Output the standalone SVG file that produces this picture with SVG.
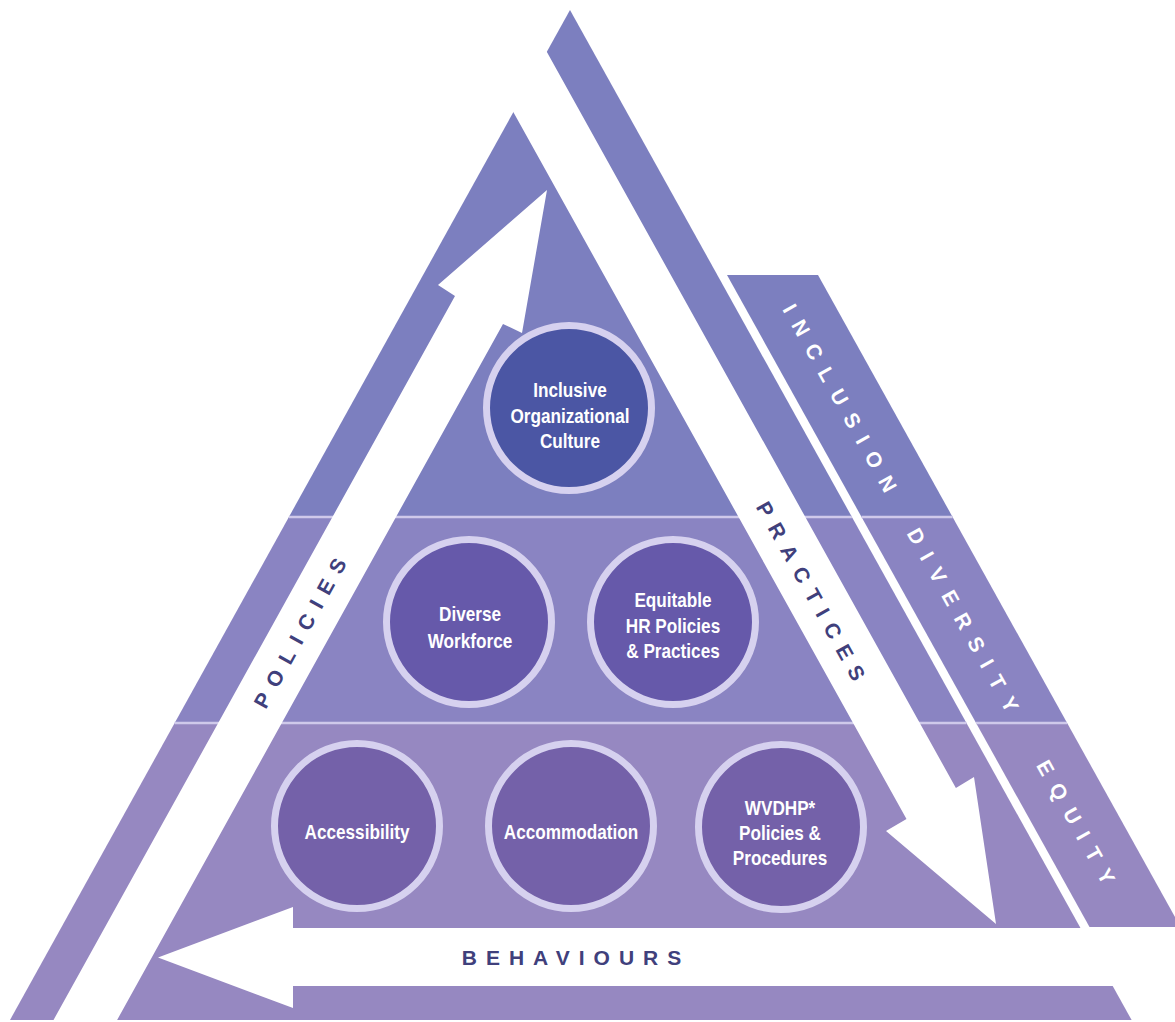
<svg xmlns="http://www.w3.org/2000/svg" width="1175" height="1022" viewBox="0 0 1175 1022">
<defs>
<linearGradient id="bands" gradientUnits="userSpaceOnUse" x1="0" y1="0" x2="0" y2="1022">
<stop offset="0" stop-color="#7c7fbf"/>
<stop offset="0.5059" stop-color="#7c7fbf"/>
<stop offset="0.5059" stop-color="#8a84c2"/>
<stop offset="0.7074" stop-color="#8a84c2"/>
<stop offset="0.7074" stop-color="#9688c1"/>
<stop offset="1" stop-color="#9688c1"/>
</linearGradient>
<style>
.band{fill:url(#bands)}
.sep{stroke:#cfc9ea;stroke-width:2.5}
.arrow{fill:#ffffff}
.ring{stroke:#d6d1ef;stroke-width:7}
.c1{fill:#4b56a4}
.c2{fill:#6659aa}
.c3{fill:#7461a9}
.ct{font-family:"Liberation Sans",Arial,sans-serif;font-weight:bold;font-size:19.5px;fill:#ffffff;text-anchor:middle}
.lab{font-family:"Liberation Sans",Arial,sans-serif;font-weight:bold;font-size:21px;text-anchor:middle}
.dark{fill:#40407c;letter-spacing:10px}
.light{fill:#ffffff;letter-spacing:12px}
</style>
</defs>
<rect width="1175" height="1022" fill="#ffffff"/>
<g id="pyramid">
<polygon class="band" points="570,10 1131.6,1020 10,1020"/>
<polygon class="band" points="727,275 818,275 1175,917 1175,927 1089.5,927"/>
<line class="sep" x1="288.9" y1="517" x2="851.9" y2="517"/>
<line class="sep" x1="861.6" y1="517" x2="952.6" y2="517"/>
<line class="sep" x1="174.6" y1="723" x2="966.4" y2="723"/>
<line class="sep" x1="976" y1="723" x2="1067" y2="723"/>
</g>
<g id="connectors">
<polygon id="arrow-practices" class="arrow" points="451,0 518,0 955.9,788 974,777 996,924 886,831 906.5,819"/>
<polygon id="arrow-policies" class="arrow" points="52.4,1022 455,296 438,285 547,190 522,333 503,324 116,1022"/>
<polygon id="arrow-behaviours" class="arrow" points="1175,928 293,928 293,907 158,957.5 293,1008 293,986 1175,986"/>
</g>
<g id="node-inclusive">
<circle class="ring c1" cx="569" cy="408" r="82.5"/>
<g transform="translate(570,0) scale(0.88,1)">
<text class="ct" x="0" y="397">Inclusive</text>
<text class="ct" x="0" y="423">Organizational</text>
<text class="ct" x="0" y="448">Culture</text>
</g>
</g>
<g id="node-diverse">
<circle class="ring c2" cx="469" cy="622" r="82.5"/>
<g transform="translate(470,0) scale(0.88,1)">
<text class="ct" x="0" y="621">Diverse</text>
<text class="ct" x="0" y="648">Workforce</text>
</g>
</g>
<g id="node-equitable">
<circle class="ring c2" cx="673" cy="622" r="82.5"/>
<g transform="translate(673,0) scale(0.88,1)">
<text class="ct" x="0" y="607">Equitable</text>
<text class="ct" x="0" y="633">HR Policies</text>
<text class="ct" x="0" y="658">&amp; Practices</text>
</g>
</g>
<g id="node-accessibility">
<circle class="ring c3" cx="357" cy="826" r="82.5"/>
<g transform="translate(357,0) scale(0.88,1)">
<text class="ct" x="0" y="839">Accessibility</text>
</g>
</g>
<g id="node-accommodation">
<circle class="ring c3" cx="571" cy="826" r="82.5"/>
<g transform="translate(571,0) scale(0.88,1)">
<text class="ct" x="0" y="839">Accommodation</text>
</g>
</g>
<g id="node-wvdhp">
<circle class="ring c3" cx="781" cy="827" r="82.5"/>
<g transform="translate(780,0) scale(0.88,1)">
<text class="ct" x="0" y="815">WVDHP*</text>
<text class="ct" x="0" y="840">Policies &amp;</text>
<text class="ct" x="0" y="865">Procedures</text>
</g>
</g>
<g id="labels">
<text class="lab dark" transform="translate(300,633) rotate(-61)" x="5" y="7.5">POLICIES</text>
<text class="lab dark" transform="translate(811,591) rotate(60.9)" x="5" y="7.5">PRACTICES</text>
<text class="lab dark" x="576" y="965" style="letter-spacing:9px">BEHAVIOURS</text>
<text class="lab light" transform="translate(840,398) rotate(60.9)" x="6" y="7.5">INCLUSION</text>
<text class="lab light" transform="translate(963,620) rotate(60.9)" x="6" y="7.5">DIVERSITY</text>
<text class="lab light" transform="translate(1076,822) rotate(60.9)" x="6" y="7.5">EQUITY</text>
</g>
</svg>
